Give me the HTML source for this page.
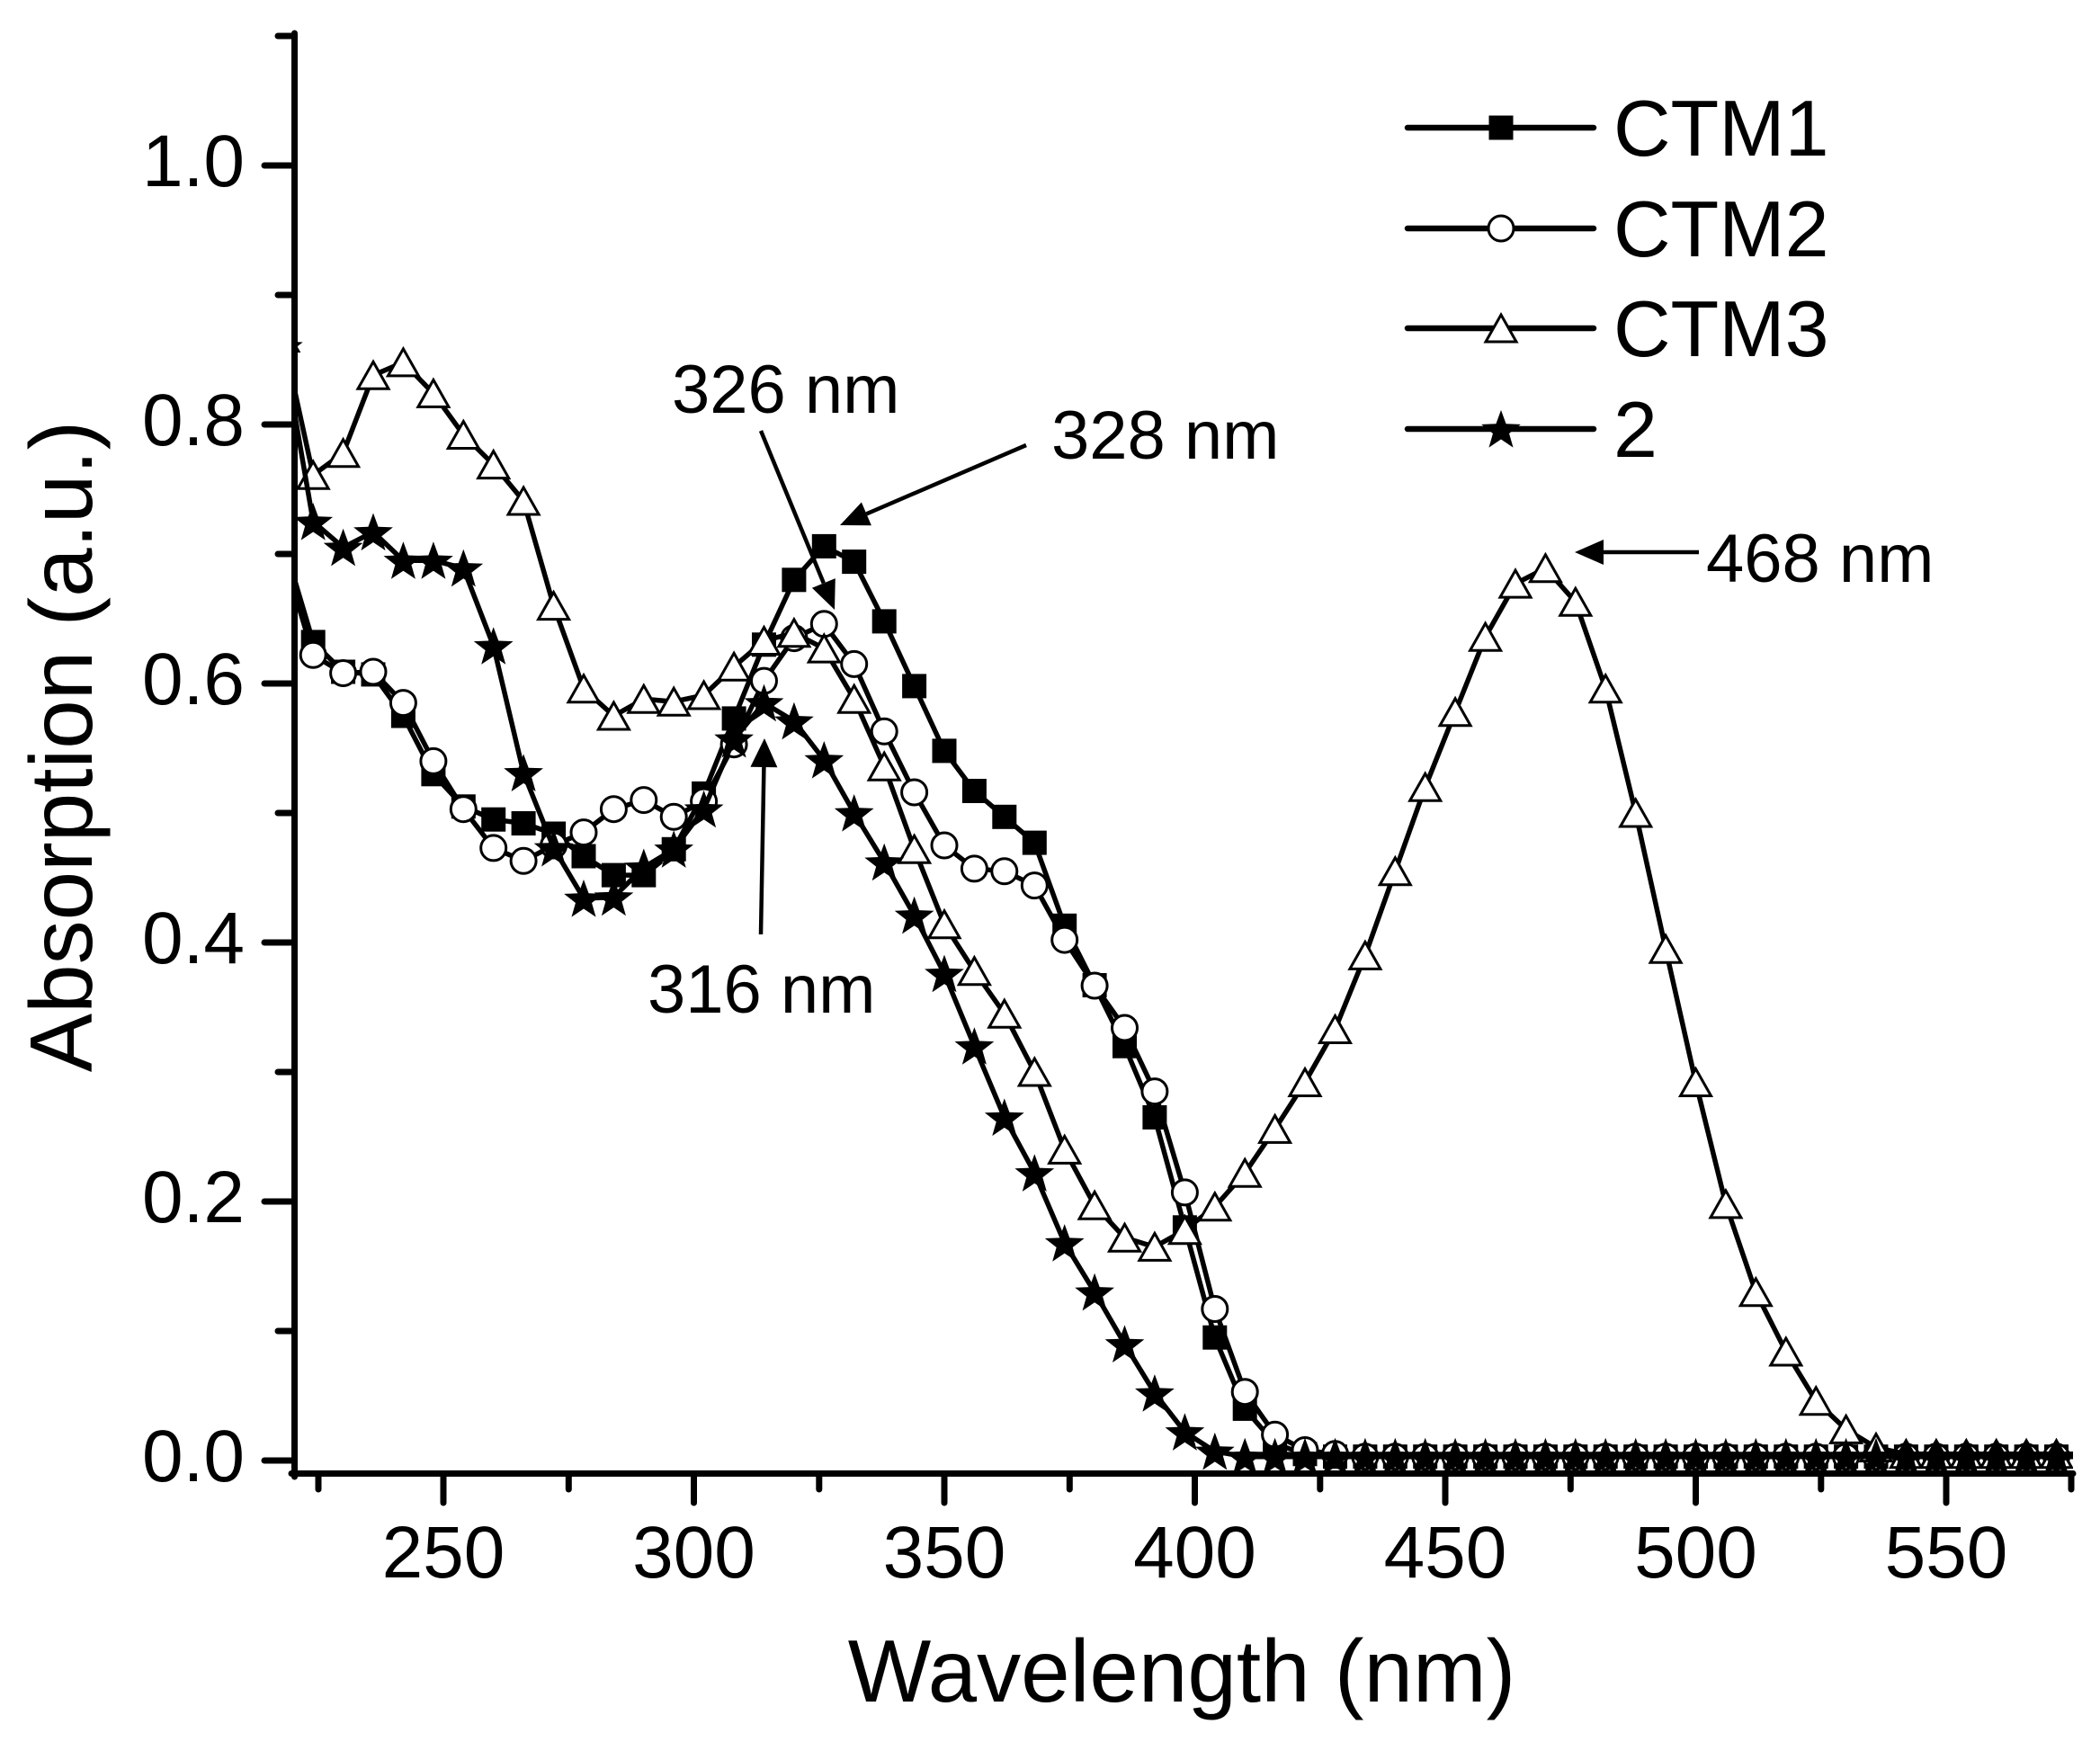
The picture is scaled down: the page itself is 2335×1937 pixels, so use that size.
<!DOCTYPE html>
<html>
<head>
<meta charset="utf-8">
<style>
html,body{margin:0;padding:0;background:#fff;}
svg{display:block;}
text{font-family:"Liberation Sans",Arial,sans-serif;fill:#000;}
</style>
</head>
<body>
<svg width="2335" height="1937" viewBox="0 0 2335 1937" xmlns="http://www.w3.org/2000/svg">
<defs>
<clipPath id="plot"><rect x="328" y="0" width="1977" height="1660"/></clipPath>
<rect id="sq" x="-13.5" y="-13.5" width="27" height="27" fill="#000"/>
<circle id="ci" r="14" fill="#fff" stroke="#000" stroke-width="3"/>
<polygon id="tr" points="0,-15 17,15 -17,15" fill="#fff" stroke="#000" stroke-width="3"/>
<polygon id="st" points="0,-21 5.58,-5.69 21.87,-5.11 9.04,4.94 13.52,20.61 0,11.5 -13.52,20.61 -9.04,4.94 -21.87,-5.11 -5.58,-5.69" fill="#000"/>
</defs>
<rect width="2335" height="1937" fill="#fff"/>

<g clip-path="url(#plot)">
<!-- CTM1 -->
<polyline fill="none" stroke="#000" stroke-width="5.5" stroke-linejoin="round" points="314.8,601.6 348.2,713.9 381.6,747.0 415.0,749.9 448.4,796.0 481.9,860.8 515.3,896.8 548.7,911.2 582.1,915.5 615.6,927.0 649.0,952.0 682.4,973.1 715.8,973.1 749.2,944.3 782.6,882.4 816.1,798.9 849.5,716.8 882.9,644.8 916.3,607.4 949.7,624.6 983.2,690.9 1016.6,762.9 1050.0,834.9 1083.4,879.5 1116.8,908.3 1150.3,937.1 1183.7,1029.3 1217.1,1095.5 1250.5,1163.2 1283.9,1242.4 1317.4,1364.8 1350.8,1487.2 1384.2,1566.4 1417.6,1605.3 1451.0,1616.8 1484.5,1619.7 2305,1619.7"/>
<g>
<use href="#sq" x="314.8" y="601.6"/><use href="#sq" x="348.2" y="713.9"/><use href="#sq" x="381.6" y="747.0"/><use href="#sq" x="415.0" y="749.9"/><use href="#sq" x="448.4" y="796.0"/><use href="#sq" x="481.9" y="860.8"/><use href="#sq" x="515.3" y="896.8"/><use href="#sq" x="548.7" y="911.2"/><use href="#sq" x="582.1" y="915.5"/><use href="#sq" x="615.6" y="927.0"/><use href="#sq" x="649.0" y="952.0"/><use href="#sq" x="682.4" y="973.1"/><use href="#sq" x="715.8" y="973.1"/><use href="#sq" x="749.2" y="944.3"/><use href="#sq" x="782.6" y="882.4"/><use href="#sq" x="816.1" y="798.9"/><use href="#sq" x="849.5" y="716.8"/><use href="#sq" x="882.9" y="644.8"/><use href="#sq" x="916.3" y="607.4"/><use href="#sq" x="949.7" y="624.6"/><use href="#sq" x="983.2" y="690.9"/><use href="#sq" x="1016.6" y="762.9"/><use href="#sq" x="1050.0" y="834.9"/><use href="#sq" x="1083.4" y="879.5"/><use href="#sq" x="1116.8" y="908.3"/><use href="#sq" x="1150.3" y="937.1"/><use href="#sq" x="1183.7" y="1029.3"/><use href="#sq" x="1217.1" y="1095.5"/><use href="#sq" x="1250.5" y="1163.2"/><use href="#sq" x="1283.9" y="1242.4"/><use href="#sq" x="1317.4" y="1364.8"/><use href="#sq" x="1350.8" y="1487.2"/><use href="#sq" x="1384.2" y="1566.4"/><use href="#sq" x="1417.6" y="1605.3"/><use href="#sq" x="1451.0" y="1616.8"/>
<use href="#sq" x="1484.5" y="1619.7"/><use href="#sq" x="1517.9" y="1619.7"/><use href="#sq" x="1551.3" y="1619.7"/><use href="#sq" x="1584.7" y="1619.7"/><use href="#sq" x="1618.1" y="1619.7"/><use href="#sq" x="1651.6" y="1619.7"/><use href="#sq" x="1685.0" y="1619.7"/><use href="#sq" x="1718.4" y="1619.7"/><use href="#sq" x="1751.8" y="1619.7"/><use href="#sq" x="1785.2" y="1619.7"/><use href="#sq" x="1818.7" y="1619.7"/><use href="#sq" x="1852.1" y="1619.7"/><use href="#sq" x="1885.5" y="1619.7"/><use href="#sq" x="1918.9" y="1619.7"/><use href="#sq" x="1952.3" y="1619.7"/><use href="#sq" x="1985.8" y="1619.7"/><use href="#sq" x="2019.2" y="1619.7"/><use href="#sq" x="2052.6" y="1619.7"/><use href="#sq" x="2086.0" y="1619.7"/><use href="#sq" x="2119.4" y="1619.7"/><use href="#sq" x="2152.9" y="1619.7"/><use href="#sq" x="2186.3" y="1619.7"/><use href="#sq" x="2219.7" y="1619.7"/><use href="#sq" x="2253.1" y="1619.7"/><use href="#sq" x="2286.5" y="1619.7"/>
</g>

<!-- CTM2 -->
<polyline fill="none" stroke="#000" stroke-width="5.5" stroke-linejoin="round" points="314.8,616.0 348.2,728.3 381.6,748.5 415.0,747.0 448.4,781.6 481.9,846.4 515.3,899.7 548.7,942.9 582.1,957.3 615.6,940.0 649.0,925.6 682.4,899.7 715.8,889.6 749.2,908.3 782.6,891.0 816.1,827.7 849.5,757.1 882.9,709.6 916.3,693.8 949.7,738.4 983.2,813.3 1016.6,881.0 1050.0,940.0 1083.4,965.9 1116.8,968.8 1150.3,984.6 1183.7,1045.1 1217.1,1096.0 1250.5,1143.0 1283.9,1213.6 1317.4,1325.9 1350.8,1455.5 1384.2,1547.7 1417.6,1595.2 1451.0,1612.5 1484.5,1616.8 1517.9,1619.7 2305,1619.7"/>
<g>
<use href="#ci" x="314.8" y="616.0"/><use href="#ci" x="348.2" y="728.3"/><use href="#ci" x="381.6" y="748.5"/><use href="#ci" x="415.0" y="747.0"/><use href="#ci" x="448.4" y="781.6"/><use href="#ci" x="481.9" y="846.4"/><use href="#ci" x="515.3" y="899.7"/><use href="#ci" x="548.7" y="942.9"/><use href="#ci" x="582.1" y="957.3"/><use href="#ci" x="615.6" y="940.0"/><use href="#ci" x="649.0" y="925.6"/><use href="#ci" x="682.4" y="899.7"/><use href="#ci" x="715.8" y="889.6"/><use href="#ci" x="749.2" y="908.3"/><use href="#ci" x="782.6" y="891.0"/><use href="#ci" x="816.1" y="827.7"/><use href="#ci" x="849.5" y="757.1"/><use href="#ci" x="882.9" y="709.6"/><use href="#ci" x="916.3" y="693.8"/><use href="#ci" x="949.7" y="738.4"/><use href="#ci" x="983.2" y="813.3"/><use href="#ci" x="1016.6" y="881.0"/><use href="#ci" x="1050.0" y="940.0"/><use href="#ci" x="1083.4" y="965.9"/><use href="#ci" x="1116.8" y="968.8"/><use href="#ci" x="1150.3" y="984.6"/><use href="#ci" x="1183.7" y="1045.1"/><use href="#ci" x="1217.1" y="1096.0"/><use href="#ci" x="1250.5" y="1143.0"/><use href="#ci" x="1283.9" y="1213.6"/><use href="#ci" x="1317.4" y="1325.9"/><use href="#ci" x="1350.8" y="1455.5"/><use href="#ci" x="1384.2" y="1547.7"/><use href="#ci" x="1417.6" y="1595.2"/><use href="#ci" x="1451.0" y="1612.5"/><use href="#ci" x="1484.5" y="1616.8"/>
<use href="#ci" x="1517.9" y="1619.7"/><use href="#ci" x="1551.3" y="1619.7"/><use href="#ci" x="1584.7" y="1619.7"/><use href="#ci" x="1618.1" y="1619.7"/><use href="#ci" x="1651.6" y="1619.7"/><use href="#ci" x="1685.0" y="1619.7"/><use href="#ci" x="1718.4" y="1619.7"/><use href="#ci" x="1751.8" y="1619.7"/><use href="#ci" x="1785.2" y="1619.7"/><use href="#ci" x="1818.7" y="1619.7"/><use href="#ci" x="1852.1" y="1619.7"/><use href="#ci" x="1885.5" y="1619.7"/><use href="#ci" x="1918.9" y="1619.7"/><use href="#ci" x="1952.3" y="1619.7"/><use href="#ci" x="1985.8" y="1619.7"/><use href="#ci" x="2019.2" y="1619.7"/><use href="#ci" x="2052.6" y="1619.7"/><use href="#ci" x="2086.0" y="1619.7"/><use href="#ci" x="2119.4" y="1619.7"/><use href="#ci" x="2152.9" y="1619.7"/><use href="#ci" x="2186.3" y="1619.7"/><use href="#ci" x="2219.7" y="1619.7"/><use href="#ci" x="2253.1" y="1619.7"/><use href="#ci" x="2286.5" y="1619.7"/>
</g>

<!-- CTM3 -->
<polyline fill="none" stroke="#000" stroke-width="5.5" stroke-linejoin="round" points="314.8,375.5 348.2,528.2 381.6,503.7 415.0,417.3 448.4,402.9 481.9,437.4 515.3,483.5 548.7,516.6 582.1,557.0 615.6,673.6 649.0,765.8 682.4,796.0 715.8,777.3 749.2,780.2 782.6,773.0 816.1,741.3 849.5,712.5 882.9,703.8 916.3,721.1 949.7,777.3 983.2,852.2 1016.6,944.3 1050.0,1027.8 1083.4,1079.7 1116.8,1127.2 1150.3,1192.0 1183.7,1278.4 1217.1,1340.3 1250.5,1376.3 1283.9,1386.4 1317.4,1367.7 1350.8,1341.8 1384.2,1304.3 1417.6,1255.4 1451.0,1203.5 1484.5,1144.5 1517.9,1062.4 1551.3,968.8 1584.7,875.2 1618.1,791.7 1651.6,708.2 1685.0,649.1 1718.4,631.8 1751.8,669.3 1785.2,765.8 1818.7,904.0 1852.1,1055.2 1885.5,1203.5 1918.9,1338.9 1952.3,1436.8 1985.8,1503.0 2019.2,1557.8 2052.6,1589.4 2086.0,1609.6 2119.4,1616.8 2305,1616.8"/>
<g>
<use href="#tr" x="314.8" y="375.5"/><use href="#tr" x="348.2" y="528.2"/><use href="#tr" x="381.6" y="503.7"/><use href="#tr" x="415.0" y="417.3"/><use href="#tr" x="448.4" y="402.9"/><use href="#tr" x="481.9" y="437.4"/><use href="#tr" x="515.3" y="483.5"/><use href="#tr" x="548.7" y="516.6"/><use href="#tr" x="582.1" y="557.0"/><use href="#tr" x="615.6" y="673.6"/><use href="#tr" x="649.0" y="765.8"/><use href="#tr" x="682.4" y="796.0"/><use href="#tr" x="715.8" y="777.3"/><use href="#tr" x="749.2" y="780.2"/><use href="#tr" x="782.6" y="773.0"/><use href="#tr" x="816.1" y="741.3"/><use href="#tr" x="849.5" y="712.5"/><use href="#tr" x="882.9" y="703.8"/><use href="#tr" x="916.3" y="721.1"/><use href="#tr" x="949.7" y="777.3"/><use href="#tr" x="983.2" y="852.2"/><use href="#tr" x="1016.6" y="944.3"/><use href="#tr" x="1050.0" y="1027.8"/><use href="#tr" x="1083.4" y="1079.7"/><use href="#tr" x="1116.8" y="1127.2"/><use href="#tr" x="1150.3" y="1192.0"/><use href="#tr" x="1183.7" y="1278.4"/><use href="#tr" x="1217.1" y="1340.3"/><use href="#tr" x="1250.5" y="1376.3"/><use href="#tr" x="1283.9" y="1386.4"/><use href="#tr" x="1317.4" y="1367.7"/><use href="#tr" x="1350.8" y="1341.8"/><use href="#tr" x="1384.2" y="1304.3"/><use href="#tr" x="1417.6" y="1255.4"/><use href="#tr" x="1451.0" y="1203.5"/><use href="#tr" x="1484.5" y="1144.5"/><use href="#tr" x="1517.9" y="1062.4"/><use href="#tr" x="1551.3" y="968.8"/><use href="#tr" x="1584.7" y="875.2"/><use href="#tr" x="1618.1" y="791.7"/><use href="#tr" x="1651.6" y="708.2"/><use href="#tr" x="1685.0" y="649.1"/><use href="#tr" x="1718.4" y="631.8"/><use href="#tr" x="1751.8" y="669.3"/><use href="#tr" x="1785.2" y="765.8"/><use href="#tr" x="1818.7" y="904.0"/><use href="#tr" x="1852.1" y="1055.2"/><use href="#tr" x="1885.5" y="1203.5"/><use href="#tr" x="1918.9" y="1338.9"/><use href="#tr" x="1952.3" y="1436.8"/><use href="#tr" x="1985.8" y="1503.0"/><use href="#tr" x="2019.2" y="1557.8"/><use href="#tr" x="2052.6" y="1589.4"/><use href="#tr" x="2086.0" y="1609.6"/><use href="#tr" x="2119.4" y="1616.8"/><use href="#tr" x="2152.9" y="1616.8"/><use href="#tr" x="2186.3" y="1616.8"/><use href="#tr" x="2219.7" y="1616.8"/><use href="#tr" x="2253.1" y="1616.8"/><use href="#tr" x="2286.5" y="1616.8"/>
</g>

<!-- 2 (stars) -->
<polyline fill="none" stroke="#000" stroke-width="5.5" stroke-linejoin="round" points="314.8,385.6 348.2,580.0 381.6,608.8 415.0,591.5 448.4,623.2 481.9,623.2 515.3,631.8 548.7,718.2 582.1,859.4 615.6,942.9 649.0,999.0 682.4,997.6 715.8,964.5 749.2,944.3 782.6,899.7 816.1,821.9 849.5,781.6 882.9,801.8 916.3,845.0 949.7,904.0 983.2,958.7 1016.6,1017.8 1050.0,1082.6 1083.4,1163.2 1116.8,1242.4 1150.3,1304.3 1183.7,1382.1 1217.1,1436.8 1250.5,1494.4 1283.9,1549.1 1317.4,1592.3 1350.8,1613.9 1384.2,1619.7 2305,1619.7"/>
<g>
<use href="#st" x="314.8" y="385.6"/><use href="#st" x="348.2" y="580.0"/><use href="#st" x="381.6" y="608.8"/><use href="#st" x="415.0" y="591.5"/><use href="#st" x="448.4" y="623.2"/><use href="#st" x="481.9" y="623.2"/><use href="#st" x="515.3" y="631.8"/><use href="#st" x="548.7" y="718.2"/><use href="#st" x="582.1" y="859.4"/><use href="#st" x="615.6" y="942.9"/><use href="#st" x="649.0" y="999.0"/><use href="#st" x="682.4" y="997.6"/><use href="#st" x="715.8" y="964.5"/><use href="#st" x="749.2" y="944.3"/><use href="#st" x="782.6" y="899.7"/><use href="#st" x="816.1" y="821.9"/><use href="#st" x="849.5" y="781.6"/><use href="#st" x="882.9" y="801.8"/><use href="#st" x="916.3" y="845.0"/><use href="#st" x="949.7" y="904.0"/><use href="#st" x="983.2" y="958.7"/><use href="#st" x="1016.6" y="1017.8"/><use href="#st" x="1050.0" y="1082.6"/><use href="#st" x="1083.4" y="1163.2"/><use href="#st" x="1116.8" y="1242.4"/><use href="#st" x="1150.3" y="1304.3"/><use href="#st" x="1183.7" y="1382.1"/><use href="#st" x="1217.1" y="1436.8"/><use href="#st" x="1250.5" y="1494.4"/><use href="#st" x="1283.9" y="1549.1"/><use href="#st" x="1317.4" y="1592.3"/><use href="#st" x="1350.8" y="1613.9"/>
<use href="#st" x="1384.2" y="1619.7"/><use href="#st" x="1417.6" y="1619.7"/><use href="#st" x="1451.0" y="1619.7"/><use href="#st" x="1484.5" y="1619.7"/><use href="#st" x="1517.9" y="1619.7"/><use href="#st" x="1551.3" y="1619.7"/><use href="#st" x="1584.7" y="1619.7"/><use href="#st" x="1618.1" y="1619.7"/><use href="#st" x="1651.6" y="1619.7"/><use href="#st" x="1685.0" y="1619.7"/><use href="#st" x="1718.4" y="1619.7"/><use href="#st" x="1751.8" y="1619.7"/><use href="#st" x="1785.2" y="1619.7"/><use href="#st" x="1818.7" y="1619.7"/><use href="#st" x="1852.1" y="1619.7"/><use href="#st" x="1885.5" y="1619.7"/><use href="#st" x="1918.9" y="1619.7"/><use href="#st" x="1952.3" y="1619.7"/><use href="#st" x="1985.8" y="1619.7"/><use href="#st" x="2019.2" y="1619.7"/><use href="#st" x="2052.6" y="1619.7"/><use href="#st" x="2086.0" y="1619.7"/><use href="#st" x="2119.4" y="1619.7"/><use href="#st" x="2152.9" y="1619.7"/><use href="#st" x="2186.3" y="1619.7"/><use href="#st" x="2219.7" y="1619.7"/><use href="#st" x="2253.1" y="1619.7"/><use href="#st" x="2286.5" y="1619.7"/>
</g>
</g>

<!-- Axes -->
<g stroke="#000" stroke-width="7" stroke-linecap="round" fill="none">
<line x1="327.5" y1="37" x2="327.5" y2="1642"/>
<line x1="324" y1="1638.5" x2="2305" y2="1638.5"/>
<!-- y major ticks -->
<line x1="294" y1="1624" x2="327" y2="1624"/>
<line x1="294" y1="1336" x2="327" y2="1336"/>
<line x1="294" y1="1048" x2="327" y2="1048"/>
<line x1="294" y1="760" x2="327" y2="760"/>
<line x1="294" y1="472" x2="327" y2="472"/>
<line x1="294" y1="184" x2="327" y2="184"/>
<!-- y minor ticks -->
<line x1="309" y1="1480" x2="327" y2="1480"/>
<line x1="309" y1="1192" x2="327" y2="1192"/>
<line x1="309" y1="904" x2="327" y2="904"/>
<line x1="309" y1="616" x2="327" y2="616"/>
<line x1="309" y1="328" x2="327" y2="328"/>
<line x1="309" y1="40" x2="327" y2="40"/>
<!-- x major ticks -->
<line x1="493" y1="1639" x2="493" y2="1671"/>
<line x1="771.5" y1="1639" x2="771.5" y2="1671"/>
<line x1="1050" y1="1639" x2="1050" y2="1671"/>
<line x1="1328.5" y1="1639" x2="1328.5" y2="1671"/>
<line x1="1607" y1="1639" x2="1607" y2="1671"/>
<line x1="1885.5" y1="1639" x2="1885.5" y2="1671"/>
<line x1="2164" y1="1639" x2="2164" y2="1671"/>
<!-- x minor ticks -->
<line x1="354" y1="1639" x2="354" y2="1656"/>
<line x1="632.3" y1="1639" x2="632.3" y2="1656"/>
<line x1="910.8" y1="1639" x2="910.8" y2="1656"/>
<line x1="1189.3" y1="1639" x2="1189.3" y2="1656"/>
<line x1="1467.8" y1="1639" x2="1467.8" y2="1656"/>
<line x1="1746.3" y1="1639" x2="1746.3" y2="1656"/>
<line x1="2024.8" y1="1639" x2="2024.8" y2="1656"/>
<line x1="2303" y1="1639" x2="2303" y2="1656"/>
</g>

<!-- Tick labels -->
<g font-size="82" text-anchor="end">
<text x="272" y="1647">0.0</text>
<text x="272" y="1359">0.2</text>
<text x="272" y="1071">0.4</text>
<text x="272" y="783">0.6</text>
<text x="272" y="495">0.8</text>
<text x="272" y="207">1.0</text>
</g>
<g font-size="82" text-anchor="middle">
<text x="493" y="1754">250</text>
<text x="771.5" y="1754">300</text>
<text x="1050" y="1754">350</text>
<text x="1328.5" y="1754">400</text>
<text x="1607" y="1754">450</text>
<text x="1885.5" y="1754">500</text>
<text x="2164" y="1754">550</text>
</g>

<!-- Axis titles -->
<text x="1314" y="1892" font-size="98" text-anchor="middle">Wavelength (nm)</text>
<text transform="translate(102,830) rotate(-90)" font-size="98" text-anchor="middle">Absorption (a.u.)</text>

<!-- Annotations -->
<g stroke="#000" stroke-width="4.5" fill="none">
<line x1="1141" y1="495" x2="963.4" y2="571.4"/>
<line x1="846" y1="479" x2="915.8" y2="648.4"/>
<line x1="846" y1="1039" x2="849.4" y2="853"/>
<line x1="1889" y1="614" x2="1783" y2="614"/>
</g>
<g fill="#000">
<polygon points="934,584 968.9,584.3 957.9,558.5"/>
<polygon points="928,678 902.9,653.7 928.8,643.1"/>
<polygon points="850,821 864.4,853.3 834.4,852.7"/>
<polygon points="1751,614 1783,600 1783,628"/>
</g>
<g font-size="76">
<text x="747" y="459">326 nm</text>
<text x="1169" y="510">328 nm</text>
<text x="720" y="1126">316 nm</text>
<text x="1897" y="647">468 nm</text>
</g>

<!-- Legend -->
<g stroke="#000" stroke-width="6.5" stroke-linecap="round">
<line x1="1565" y1="142" x2="1772" y2="142"/>
<line x1="1565" y1="254" x2="1772" y2="254"/>
<line x1="1565" y1="365" x2="1772" y2="365"/>
<line x1="1565" y1="477" x2="1772" y2="477"/>
</g>
<use href="#sq" x="1669" y="142"/>
<use href="#ci" x="1669" y="254"/>
<use href="#tr" x="1669" y="365"/>
<use href="#st" x="1669" y="477"/>
<g font-size="88">
<text x="1794" y="173">CTM1</text>
<text x="1794" y="285">CTM2</text>
<text x="1794" y="396">CTM3</text>
<text x="1794" y="508">2</text>
</g>
</svg>
</body>
</html>
